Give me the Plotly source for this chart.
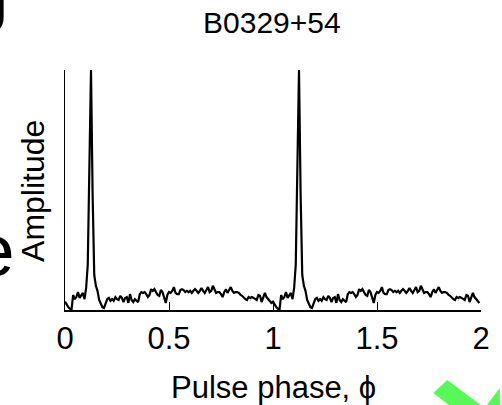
import plotly.graph_objects as go

# One rotation of the integrated pulse profile (128 phase bins, arbitrary units)
profile = [
    20, 12, 7, 3, 0, 36, 26, 31, 43, 29, 36, 41, 26, 53, 108, 300,
    576, 276, 84, 58, 46, 24, 14, 7, 5, 14, 26, 29, 22, 26, 22, 31,
    26, 24, 34, 29, 19, 29, 31, 17, 38, 24, 19, 26, 22, 19, 38, 43,
    41, 43, 38, 31, 36, 50, 46, 50, 43, 36, 34, 48, 43, 31, 17, 36,
    43, 41, 46, 55, 41, 38, 38, 48, 50, 48, 43, 46, 43, 46, 41, 46,
    50, 46, 41, 46, 53, 46, 41, 48, 55, 43, 46, 58, 50, 41, 43, 43,
    38, 31, 43, 50, 41, 48, 55, 46, 41, 43, 43, 41, 36, 34, 29, 26,
    24, 31, 29, 31, 29, 26, 24, 36, 34, 19, 31, 41, 31, 26, 22, 17,
]
bins_per_turn = 128
n_turns = 2

# Two consecutive rotations are shown side by side
amplitude = profile * n_turns
phase = [i / bins_per_turn for i in range(bins_per_turn * n_turns)]

x_ticks = [0, 0.5, 1, 1.5, 2]
x_tick_text = ["0", "0.5", "1", "1.5", "2"]

title_text = "B0329+54"
x_title = "Pulse phase, \u03d5"
y_title = "Amplitude"

font_family = "Liberation Sans, Arial, Helvetica, sans-serif"

fig = go.Figure()
fig.add_trace(
    go.Scatter(
        x=phase,
        y=amplitude,
        mode="lines",
        line=dict(color="black", width=2.2),
        hoverinfo="skip",
        showlegend=False,
    )
)

fig.update_layout(
    width=502,
    height=405,
    margin=dict(l=65, r=18, t=70, b=95),
    paper_bgcolor="white",
    plot_bgcolor="white",
    font=dict(family=font_family, color="black", size=30),
    xaxis=dict(
        range=[0, 2],
        tickvals=x_ticks,
        ticktext=x_tick_text,
        ticks="inside",
        ticklen=8,
        tickwidth=1,
        tickcolor="black",
        showline=True,
        linecolor="black",
        linewidth=1.5,
        showgrid=False,
        zeroline=False,
        tickfont=dict(size=31),
    ),
    yaxis=dict(
        range=[0, max(amplitude)],
        showticklabels=False,
        ticks="",
        showline=True,
        linecolor="black",
        linewidth=1,
        showgrid=False,
        zeroline=False,
    ),
    annotations=[
        dict(text=title_text, xref="paper", yref="paper", x=0.497, y=1.0,
             yshift=48, xanchor="center", yanchor="middle", showarrow=False,
             font=dict(size=30)),
        dict(text=x_title, xref="paper", yref="paper", x=0.5, y=-0.322,
             xanchor="center", yanchor="middle", showarrow=False,
             font=dict(size=31)),
        dict(text=y_title, xref="paper", yref="paper", x=-0.0764, y=0.497,
             xanchor="center", yanchor="middle", showarrow=False,
             textangle=-90, font=dict(size=32)),
        # letters of neighbouring panel labels running off the left edge
        dict(text="g", xref="paper", yref="paper", x=-0.184, y=1.325,
             xanchor="center", yanchor="middle", showarrow=False,
             font=dict(size=75)),
        dict(text="e", xref="paper", yref="paper", x=-0.1695, y=0.25,
             xanchor="center", yanchor="middle", showarrow=False,
             font=dict(size=75)),
    ],
)

# green chevron in the lower-right corner
def px(xp, yp):
    return (xp - 65) / 419, (310 - yp) / 240

def path(points):
    parts = []
    for k, (a, b) in enumerate(points):
        x, y = px(a, b)
        parts.append(("M" if k == 0 else "L") + f"{x:.4f},{y:.4f}")
    return " ".join(parts) + " Z"

fig.add_shape(type="path", xref="paper", yref="paper",
              path=path([(436, 393), (450, 380), (485, 406), (453, 406)]),
              fillcolor="#57F957", line=dict(width=0), layer="above")
fig.add_shape(type="path", xref="paper", yref="paper",
              path=path([(489, 406), (503, 388), (503, 406)]),
              fillcolor="#57F957", line=dict(width=0), layer="above")

fig.write_html("out.html")
